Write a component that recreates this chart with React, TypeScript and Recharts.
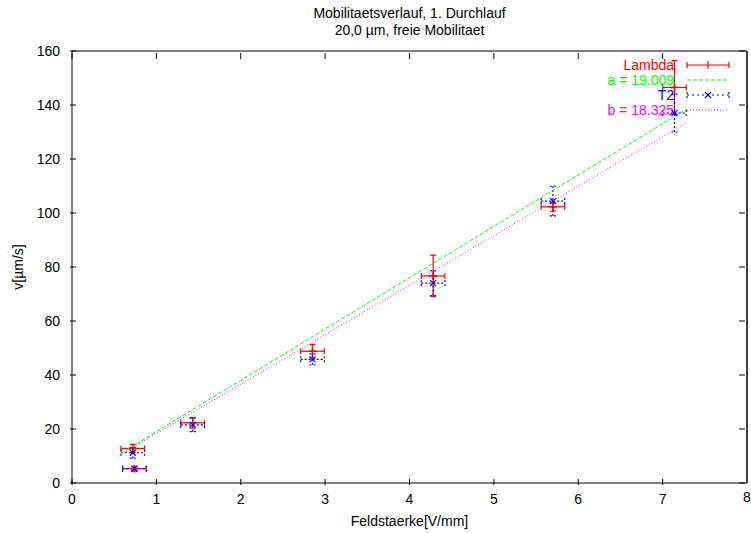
import React from 'react';
import { ComposedChart, Scatter, XAxis, YAxis, ErrorBar, ReferenceArea, ReferenceLine } from 'recharts';

const FONT = '"Liberation Sans", Arial, Helvetica, sans-serif';

const titleLines = ['Mobilitaetsverlauf, 1. Durchlauf', '20,0 \u00b5m, freie Mobilitaet'];
const xLabel = 'Feldstaerke[V/mm]';
const yLabel = 'v[\u00b5m/s]';
const seriesNames = ['Lambda', 'a = 19.009', 'T2', 'b = 18.325'];
const seriesColors = ['#ff0000', '#00ff00', '#0000ff', '#ff00ff'];

const xTicks = [0, 1, 2, 3, 4, 5, 6, 7, 8];
const yTicks = [0, 20, 40, 60, 80, 100, 120, 140, 160];

// Lambda measurements
const lambdaX = [0.72, 0.74, 1.43, 2.85, 4.28, 5.7, 7.14];
const lambdaY = [12.8, 5.3, 22.3, 48.8, 76.7, 102.3, 146.5];
const lambdaXErr = [0.14, 0.14, 0.14, 0.14, 0.14, 0.14, 0.14];
const lambdaYErr = [1.5, 0.8, 2.0, 2.5, 7.7, 1.6, 10.0];

// T2 measurements
const t2X = [0.72, 0.74, 1.43, 2.85, 4.28, 5.7, 7.14];
const t2Y = [11.2, 5.3, 21.5, 45.8, 74.0, 104.4, 137.0];
const t2XErr = [0.14, 0.14, 0.14, 0.14, 0.14, 0.14, 0.14];
const t2YErr = [2.0, 0.8, 2.5, 2.0, 4.6, 5.5, 7.0];

// fit lines (endpoints)
const fitX = [0.58, 7.28];
const fitA = [11.0, 138.4];
const fitB = [10.6, 133.4];

const lambdaData = lambdaX.map((x, i) => ({ x, y: lambdaY[i], ex: lambdaXErr[i], ey: lambdaYErr[i] }));
const t2Data = t2X.map((x, i) => ({ x, y: t2Y[i], ex: t2XErr[i], ey: t2YErr[i] }));
const fitAData = fitX.map((x, i) => ({ x, y: fitA[i] }));
const fitBData = fitX.map((x, i) => ({ x, y: fitB[i] }));

const W = 751;
const H = 533;
const MARGIN = { top: 51, right: 4, bottom: 49, left: 12 };
const Y_AXIS_W = 60;
const X_AXIS_H = 1;
const PLOT_W = W - MARGIN.left - MARGIN.right - Y_AXIS_W;
const PLOT_H = H - MARGIN.top - MARGIN.bottom - X_AXIS_H;
const TICK = 6;
const X_MAX = xTicks[xTicks.length - 1];

const BottomTick = (props: any) => {
  const { x, y, payload } = props;
  if (payload.value === X_MAX) return <g />;
  return (
    <g>
      <line x1={x} y1={y} x2={x} y2={y - TICK} stroke="#000" />
      <line x1={x} y1={y - PLOT_H} x2={x} y2={y - PLOT_H + TICK} stroke="#000" />
      <text x={x} y={y + 19} textAnchor="middle" fontSize={14} fill="#000" fontFamily={FONT}>
        {payload.value}
      </text>
    </g>
  );
};

const EdgeTickLabel = (props: any) => {
  const vb = props.viewBox || {};
  const x = vb.x;
  const yb = vb.y + vb.height;
  return (
    <text x={x} y={yb + 19} textAnchor="middle" fontSize={14} fill="#000" fontFamily={FONT}>
      {X_MAX}
    </text>
  );
};

const LeftTick = (props: any) => {
  const { x, y, payload } = props;
  return (
    <g>
      <line x1={x} y1={y} x2={x + TICK} y2={y} stroke="#000" />
      <line x1={x + PLOT_W} y1={y} x2={x + PLOT_W - TICK} y2={y} stroke="#000" />
      <text x={x - 10} y={y + 5} textAnchor="end" fontSize={14} fill="#000" fontFamily={FONT}>
        {payload.value}
      </text>
    </g>
  );
};

const PlusShape = (props: any) => {
  const { cx, cy } = props;
  const c = seriesColors[0];
  return (
    <g>
      <line x1={cx - 4} y1={cy} x2={cx + 4} y2={cy} stroke={c} strokeWidth={1.5} />
      <line x1={cx} y1={cy - 4} x2={cx} y2={cy + 4} stroke={c} strokeWidth={1.5} />
    </g>
  );
};

const CrossShape = (props: any) => {
  const { cx, cy } = props;
  const c = seriesColors[2];
  return (
    <g>
      <line x1={cx - 3} y1={cy - 3} x2={cx + 3} y2={cy + 3} stroke={c} strokeWidth={1.2} />
      <line x1={cx - 3} y1={cy + 3} x2={cx + 3} y2={cy - 3} stroke={c} strokeWidth={1.2} />
    </g>
  );
};

const NoShape = () => <g />;

const LegendBlock = () => {
  const rows = [65, 80, 95, 110];
  const x0 = 687;
  const x1 = 729;
  const xm = 708;
  return (
    <g className="recharts-legend">
      {seriesNames.map((n, i) => (
        <text key={n} x={674} y={rows[i] + 5} textAnchor="end" fontSize={14} fill={seriesColors[i]} fontFamily={FONT}>
          {n}
        </text>
      ))}
      <g stroke={seriesColors[0]} strokeWidth={1.2}>
        <line x1={x0} y1={rows[0]} x2={x1} y2={rows[0]} />
        <line x1={x0} y1={rows[0] - 3} x2={x0} y2={rows[0] + 3} />
        <line x1={x1} y1={rows[0] - 3} x2={x1} y2={rows[0] + 3} />
        <line x1={xm} y1={rows[0] - 4} x2={xm} y2={rows[0] + 4} />
      </g>
      <line x1={x0} y1={rows[1]} x2={x1} y2={rows[1]} stroke={seriesColors[1]} strokeDasharray="4 2" />
      <g stroke={seriesColors[2]} strokeWidth={1.2}>
        <line x1={x0} y1={rows[2]} x2={x1} y2={rows[2]} strokeDasharray="2 3" />
        <line x1={x0} y1={rows[2] - 3} x2={x0} y2={rows[2] + 3} strokeDasharray="2 2" />
        <line x1={x1} y1={rows[2] - 3} x2={x1} y2={rows[2] + 3} strokeDasharray="2 2" />
        <line x1={xm - 3} y1={rows[2] - 3} x2={xm + 3} y2={rows[2] + 3} />
        <line x1={xm - 3} y1={rows[2] + 3} x2={xm + 3} y2={rows[2] - 3} />
      </g>
      <line x1={x0} y1={rows[3]} x2={x1} y2={rows[3]} stroke={seriesColors[3]} strokeDasharray="1 2" />
    </g>
  );
};

const XLabelContent = () => (
  <g>
    {titleLines.map((t, i) => (
      <text key={t} x={409.5} y={18 + i * 17} textAnchor="middle" fontSize={14} fill="#000" fontFamily={FONT}>
        {t}
      </text>
    ))}
    <text x={409.5} y={526} textAnchor="middle" fontSize={14} fill="#000" fontFamily={FONT}>
      {xLabel}
    </text>
  </g>
);

const YLabelContent = () => (
  <g>
    <text x={23} y={267} transform="rotate(-90 23 267)" textAnchor="middle" fontSize={14} fill="#000" fontFamily={FONT}>
      {yLabel}
    </text>
    <LegendBlock />
  </g>
);

export default function App() {
  return (
    <div style={{ position: 'absolute', left: 0, top: 0, width: W, height: H, background: '#fff' }}>
      <ComposedChart width={W} height={H} margin={MARGIN} style={{ fontFamily: FONT }}>
        <XAxis
          dataKey="x"
          type="number"
          domain={[0, X_MAX]}
          ticks={xTicks}
          interval={0}
          height={X_AXIS_H}
          tickSize={0}
          tickLine={false}
          tick={BottomTick}
          axisLine={false}
          label={{ content: XLabelContent }}
        />
        <YAxis
          dataKey="y"
          type="number"
          domain={[0, 160]}
          ticks={yTicks}
          interval={0}
          width={Y_AXIS_W}
          tickSize={0}
          tickLine={false}
          tick={LeftTick}
          axisLine={false}
          label={{ content: YLabelContent }}
        />
        <ReferenceArea x1={0} x2={X_MAX} y1={0} y2={160} fill="none" stroke="#000" strokeWidth={1} />
        <ReferenceLine x={X_MAX} stroke="#000" strokeWidth={1} ifOverflow="visible" label={EdgeTickLabel} />
        <Scatter name={seriesNames[0]} data={lambdaData} shape={PlusShape} isAnimationActive={false}>
          <ErrorBar dataKey="ey" direction="y" width={3} stroke={seriesColors[0]} strokeWidth={1.2} isAnimationActive={false} />
          <ErrorBar dataKey="ex" direction="x" width={3} stroke={seriesColors[0]} strokeWidth={1.2} isAnimationActive={false} />
        </Scatter>
        <Scatter
          name={seriesNames[1]}
          data={fitAData}
          shape={NoShape}
          line={{ stroke: seriesColors[1], strokeDasharray: '4 2', strokeWidth: 1 }}
          isAnimationActive={false}
        />
        <Scatter name={seriesNames[2]} data={t2Data} shape={CrossShape} isAnimationActive={false}>
          <ErrorBar dataKey="ey" direction="y" width={3} stroke={seriesColors[2]} strokeWidth={1.2} strokeDasharray="2 2" isAnimationActive={false} />
          <ErrorBar dataKey="ex" direction="x" width={3} stroke={seriesColors[2]} strokeWidth={1.2} strokeDasharray="2 2" isAnimationActive={false} />
        </Scatter>
        <Scatter
          name={seriesNames[3]}
          data={fitBData}
          shape={NoShape}
          line={{ stroke: seriesColors[3], strokeDasharray: '1 2', strokeWidth: 1 }}
          isAnimationActive={false}
        />
      </ComposedChart>
    </div>
  );
}
